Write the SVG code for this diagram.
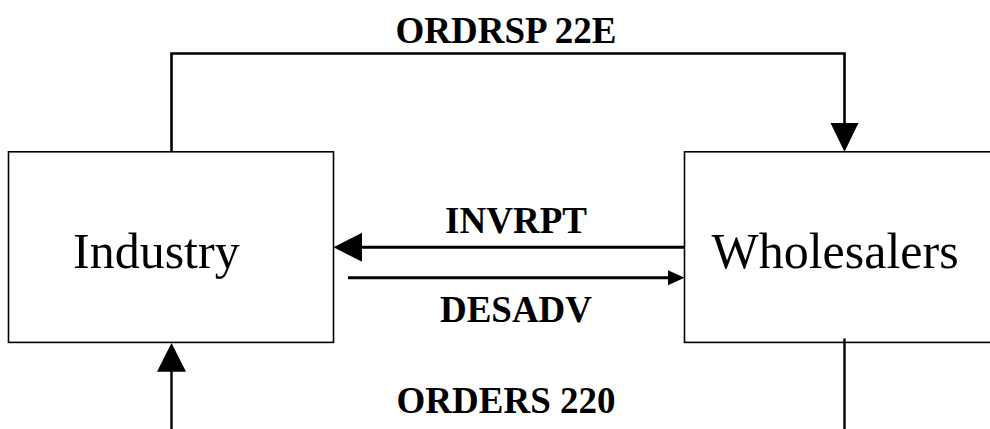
<svg xmlns="http://www.w3.org/2000/svg" width="990" height="429" viewBox="0 0 990 429">
<style>
.box{fill:#fff;stroke:#000;stroke-width:1.6}
.name{font-family:"Liberation Serif","Times New Roman",serif;font-size:50px;fill:#000}
.lbl{font-family:"Liberation Serif","Times New Roman",serif;font-size:37px;font-weight:bold;fill:#000;text-anchor:middle}
.ln{fill:none;stroke:#000}
.head{fill:#000;stroke:none}
</style>
<rect width="990" height="429" fill="#fff"/>
<g id="industry">
<rect class="box" x="8.5" y="151.8" width="325" height="190.6"/>
<text class="name" x="73" y="268.3">Industry</text>
</g>
<g id="wholesalers">
<rect class="box" x="684.5" y="151.8" width="320" height="190.6"/>
<text class="name" x="711.5" y="268.3">Wholesalers</text>
</g>
<g id="connectors">
<path class="ln" stroke-width="2.6" d="M171.5 151.8 V53.5 H844.5 V124"/>
<polygon class="head" points="830.5,123 858.5,123 844.5,151.8"/>
<path class="ln" stroke-width="3" d="M684.5 247.3 H360"/>
<polygon class="head" points="362,232.8 362,261.8 333.5,247.3"/>
<path class="ln" stroke-width="3" d="M348 277.7 H670"/>
<polygon class="head" points="668,270.2 668,285.2 684.5,277.7"/>
<path class="ln" stroke-width="2.4" d="M171.5 429 V370"/>
<polygon class="head" points="157,371.7 186,371.7 171.5,343"/>
<path class="ln" stroke-width="2.4" d="M844.5 338.5 V429"/>
</g>
<g id="labels">
<text class="lbl" x="506" y="43.3">ORDRSP 22E</text>
<text class="lbl" x="516" y="233">INVRPT</text>
<text class="lbl" x="516" y="321.5">DESADV</text>
<text class="lbl" x="506" y="412.5">ORDERS 220</text>
</g>
</svg>
